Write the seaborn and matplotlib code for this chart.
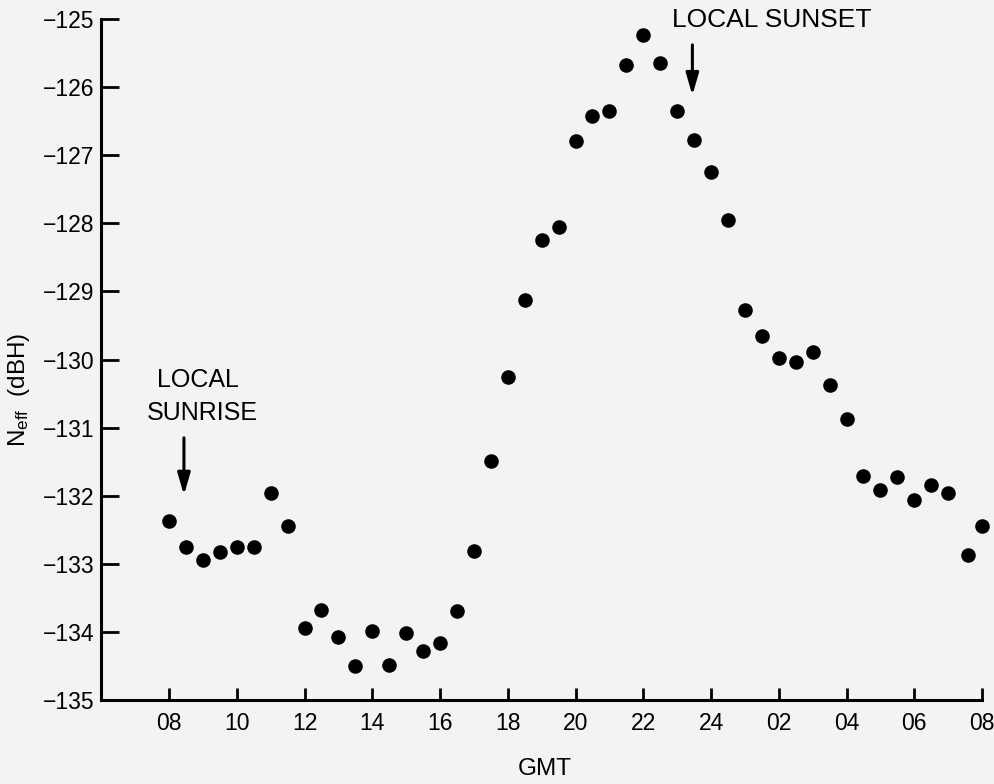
import matplotlib
matplotlib.use("Agg")
import matplotlib.pyplot as plt
import seaborn as sns
import pandas as pd

# ---- data ----
hours = [8.0, 8.5, 9.0, 9.5, 10.0, 10.5, 11.0, 11.5,
         12.0, 12.5, 13.0, 13.5, 14.0, 14.5, 15.0, 15.5,
         16.0, 16.5, 17.0, 17.5, 18.0, 18.5, 19.0, 19.5,
         20.0, 20.5, 21.0, 21.5, 22.0, 22.5, 23.0, 23.5,
         24.0, 24.5, 25.0, 25.5, 26.0, 26.5, 27.0, 27.5,
         28.0, 28.5, 29.0, 29.5, 30.0, 30.5, 31.0, 31.6, 32.0]
n_eff = [-132.37, -132.75, -132.94, -132.83, -132.75, -132.76, -131.96, -132.44,
         -133.95, -133.68, -134.07, -134.50, -133.98, -134.48, -134.02, -134.28,
         -134.17, -133.69, -132.81, -131.49, -130.25, -129.13, -128.25, -128.05,
         -126.79, -126.42, -126.35, -125.67, -125.24, -125.64, -126.35, -126.77,
         -127.25, -127.95, -129.27, -129.65, -129.98, -130.03, -129.89, -130.37,
         -130.88, -131.71, -131.92, -131.72, -132.07, -131.85, -131.96, -132.87, -132.44]
x_tick_pos = [8, 10, 12, 14, 16, 18, 20, 22, 24, 26, 28, 30, 32]
x_tick_labels = ["08", "10", "12", "14", "16", "18", "20", "22", "24", "02", "04", "06", "08"]
y_tick_pos = [-125, -126, -127, -128, -129, -130, -131, -132, -133, -134, -135]
y_tick_labels = ["\u2212125", "\u2212126", "\u2212127", "\u2212128", "\u2212129", "\u2212130",
                 "\u2212131", "\u2212132", "\u2212133", "\u2212134", "\u2212135"]
sunrise_hour = 8.5
sunset_hour = 23.5

df = pd.DataFrame({"GMT": hours, "Neff": n_eff})

sns.set_theme(style="ticks")
plt.rcParams["font.family"] = ["Liberation Sans", "DejaVu Sans"]
plt.rcParams["mathtext.fontset"] = "custom"
plt.rcParams["mathtext.rm"] = "Liberation Sans"
plt.rcParams["mathtext.it"] = "Liberation Sans"
plt.rcParams["text.color"] = "black"
plt.rcParams["axes.labelcolor"] = "black"

bg = "#f3f3f1"
fig = plt.figure(figsize=(9.95, 7.84), dpi=100, facecolor=bg)
ax = fig.add_axes([101.3 / 995, 1 - 700 / 784, (982 - 101.3) / 995, (700 - 19) / 784])
ax.set_facecolor(bg)

sns.scatterplot(data=df, x="GMT", y="Neff", ax=ax, color="black", s=110,
                linewidth=0, legend=False, clip_on=False, zorder=3)

ax.set_xlim(6, 32)
ax.set_ylim(-135, -125)
ax.set_xticks(x_tick_pos)
ax.set_xticklabels(x_tick_labels)
ax.set_yticks(y_tick_pos)
ax.set_yticklabels(y_tick_labels)

for s in ["top", "right"]:
    ax.spines[s].set_visible(False)
for s in ["left", "bottom"]:
    ax.spines[s].set_linewidth(2.2)
    ax.spines[s].set_color("black")

ax.tick_params(axis="x", direction="in", length=9, width=2, pad=9,
               labelsize=16.5, colors="black")
ax.tick_params(axis="y", direction="in", length=13, width=2, pad=5,
               labelsize=16.5, colors="black")

ax.set_xlabel("GMT", fontsize=17.5)
ax.xaxis.set_label_coords(0.504, -0.085)
ax.set_ylabel(r"N$_{\mathregular{eff}}$  (dBH)", fontsize=17.5)
ax.yaxis.set_label_coords(-0.079, 0.455)

# annotations
arrow_style = dict(arrowstyle="-|>,head_length=1.1,head_width=0.32",
                   color="black", lw=2.2, shrinkA=0, shrinkB=0)
ax.annotate("", xy=(sunrise_hour - 0.06, -131.99), xytext=(sunrise_hour - 0.06, -131.15),
            arrowprops=arrow_style)
ax.text(8.85, -130.30, "LOCAL", ha="center", va="center", fontsize=18)
ax.text(8.98, -130.79, "SUNRISE", ha="center", va="center", fontsize=18)

ax.annotate("", xy=(sunset_hour - 0.05, -126.12), xytext=(sunset_hour - 0.05, -125.38),
            arrowprops=arrow_style, annotation_clip=False)
ax.text(22.86, -125.01, "LOCAL SUNSET", ha="left", va="center", fontsize=19,
        clip_on=False)

fig.savefig("out.png", dpi=100, facecolor=bg)
